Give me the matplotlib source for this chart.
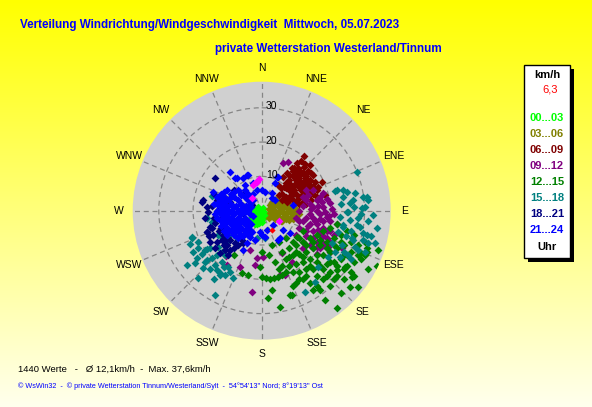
import numpy as np
import matplotlib.pyplot as plt
from matplotlib.patches import Rectangle

# wind rose points, one list per time slot: (east, north) component in km/h
# direction = angle from north (clockwise), speed = length
pts_00_03 = [(-2.5, -0.5), (-2.0, -1.0), (-1.5, -1.5), (-2.8, -1.5), (-3.2, -1.0), (-1.0, -0.8),
             (-0.5, -1.5), (-1.8, -2.2), (-2.5, -2.5), (-1.2, -2.8), (-0.6, -2.5), (0.2, -1.0),
             (-0.2, 0.3), (-1.0, 0.2), (-1.8, 0.5), (-2.6, 0.6), (-3.0, -2.2), (-2.2, -3.3),
             (-1.5, -3.8), (0.5, -2.0), (0.8, -0.5), (-0.8, -3.6), (-3.4, -0.2), (-2.0, -4.0),
             (0.0, -3.2), (1.2, -1.5), (-1.0, 1.0), (0.3, 0.8), (-1.5, -0.3), (-2.2, -1.8)]
pts_03_06 = [(2, 0.5), (3, 1), (4, 0), (5, -0.5), (6, 0.5), (7, 1), (8, 0), (9, -1), (10, -1.5),
             (3, -1.5), (4, -2.5), (5, -1.8), (6, -2.5), (7, -1.5), (8, -2.6), (9, -2.5), (6, 2),
             (7, 2.5), (5, 2.5), (4, 2), (8, 2), (9, 1.5), (10, 0.5), (2.5, -0.8), (3.5, 3),
             (6, -3), (7.5, -0.5), (5.5, 1.2), (4.5, -1), (8.5, -1.8), (3, 2.5), (2, -2),
             (11, -1), (4.5, 3.5), (6.5, 3.5), (3.5, 0.2), (5, 1), (6.5, -1), (7.5, 1.8),
             (8.5, 0.8), (9.5, 0), (4, -1.5), (5.5, -3), (7, -2.5), (3, 0), (2.5, 1.8), (10.5, -0.5)]
pts_06_09 = [(12.4, 15.9), (10.2, 13.8), (12.4, 12.8), (14.1, 13.3), (8.7, 12.4), (6.3, 9.9),
             (4.8, 7.5), (18.5, 4.6), (16.5, 7.0), (15.0, 10.4), (17.5, 8.5), (7, 8), (8, 9),
             (9, 10), (10, 11), (11, 10), (12, 11), (13, 10), (14, 9), (9, 7), (10, 8), (11, 7),
             (12, 8), (13, 7), (15, 7), (8, 6), (9, 5), (10, 5), (11, 4), (12, 5), (13, 4.5),
             (14, 5), (15, 5), (16, 4), (6, 5), (7, 4), (8, 3), (9, 3), (10, 2.5), (11, 2),
             (12, 2.5), (13, 2), (7, 6.5), (11, 12), (9.5, 12.5), (13.5, 11.5), (6, 3), (5, 4.5),
             (14.5, 3), (16, 6), (10, 9), (12, 6.5), (8, 10.5), (11.5, 14.5), (5.5, 6.5), (7.5, 11),
             (8.5, 7.5), (10.5, 9.5), (12.5, 9.5), (11.5, 8.5), (13.5, 8.5), (9.5, 6), (11.5, 6),
             (13.5, 6), (10.5, 3.5), (12.5, 3.5), (14, 7.5), (9, 11.5), (12.5, 13.5), (10.5, 12.5),
             (7.5, 7.5), (15.5, 8.5), (6.5, 7), (8.5, 4.5), (7.5, 2.5), (14.5, 11)]
pts_09_12 = [(7.7, 14.2), (6.2, 13.9), (17.9, 5.1), (19.9, 2.2), (19.0, -1.8), (-3.4, -11.5),
             (-10.2, -15.8), (-6.3, -16.3), (-1.5, -13.9), (-2.0, -15.8), (0.4, -13.4),
             (-2.9, -23.6), (5.3, -18.7), (6.8, -18.7), (8.7, -14.9), (5.8, -12.2), (-10.5, -13.1),
             (19.3, -10.5), (23.3, -11), (12, 4), (13, 3), (14, 2), (15, 1), (16, 3), (17, 4),
             (18, 1), (16, 0), (14, -1), (13, -2), (15, -2), (17, -1), (18, -3), (20, -3),
             (12, -3), (14, -4), (16, -4), (18, -5), (19, -6), (13, -6), (15, -6), (17, -7),
             (19, -8), (14, -8), (16, -9), (18, -10), (20, -9), (21, -7), (15, -11), (17, -11),
             (12, -9), (11, -5), (10, -2), (11, 0), (12, 1.5), (21, -1), (22, -4), (19, 3.5),
             (13, 6), (15, 6), (10, -7), (20, -12), (16, -12.5), (12, -11),
             (13.5, 4.5), (14.5, 0.5), (16.5, 1.5), (17.5, 2.5), (15.5, -3), (17, -2.5),
             (19.5, -1.5), (13.5, -4.5), (16.5, -5.5), (18, -7.5), (15, -8), (17.5, -9), (20, -6),
             (14, -10), (16, -10.5), (19, -11), (13, -7.5), (11, -3), (18.5, -0.5), (20.5, 0.5)]
pts_12_15 = [(33.5, -16.2), (30.7, -12), (28, -22.2), (25.7, -22.2), (21.9, -28.4), (18.4, -26),
             (15, -23.1), (8.3, -24.6), (5.3, -28), (3, -23.1), (1.9, -25.4), (8.7, -24.6),
             (-8, -12.9), (-5.8, -18.3), (-4.1, -18.7), (0, -12), (-0.5, -16.3),
             (0, -19.4), (1.2, -19.6), (2.4, -19.8), (3.6, -19.6), (4.7, -19.2), (5.8, -18.8),
             (3, -10), (5, -9), (7, -8), (10.2, -7.6), (12, -6), (6, -12), (8, -11), (10, -10),
             (12, -9), (14, -8), (16, -7), (18, -6), (20, -5), (22, -4), (7, -14), (9, -13),
             (11, -12.5), (13, -12), (15, -11), (17, -10), (19, -9), (21, -8), (23, -7), (25, -6),
             (27, -7), (6, -16), (8, -16), (10, -15.5), (12, -15), (14, -14), (16, -13), (18, -13),
             (20, -12), (22, -11), (24, -10), (26, -9), (28, -10), (30, -9), (9, -18), (11, -18),
             (13, -17), (15, -17), (17, -16), (19, -15.5), (21, -15), (23, -14), (25, -13),
             (27, -15), (29, -14), (12, -20), (14, -21), (16, -19), (18, -20), (20, -18),
             (22, -19), (24, -17), (26, -18), (20, -22), (23, -24), (17, -23), (10, -21), (4, -15),
             (2, -13), (31, -17), (27, -19), (30.6, -11), (34, -11.5), (29, -12.4), (26.2, -19.2),
             (21.9, -17.3), (24.3, -16.3),
             (9, -9), (11, -8), (13, -10), (15, -9), (17, -8.5), (19, -11), (21, -10), (23, -9),
             (8, -13.5), (10, -12), (12, -13.5), (14, -16), (16, -15), (18, -17), (20, -15),
             (22, -16), (24, -13), (26, -12), (28, -13), (11, -20), (13, -19), (19, -19),
             (21, -20), (25, -16), (24, -20), (7, -18), (5, -17), (9, -22), (16, -22), (30, -13)]
pts_15_18 = [(27.7, 11.4), (21.9, 6), (30.6, 4.1), (32.5, -1.3), (33, -9.5), (30.1, -12),
             (23.8, 4.1), (21.4, 5.7), (24.8, 5.5), (26.7, 3.1), (29.6, 4.1), (31.1, 3.1),
             (29.2, 0.7), (25.2, -0.3), (25.7, -2.7), (23.8, -4.2), (27.7, -4.2), (33.5, -5.1),
             (30.6, -7.1), (26.2, -8), (23.3, -10), (21.4, -12), (22.8, -13.4), (25.2, -12.9),
             (27.2, -10.5), (16.5, -16.3), (12.6, -23.6), (15.5, -20.7), (29.6, -8.5),
             (19.4, -13.4), (20.4, -9.5), (22.3, -6.1), (23.8, 6), (27.2, 5.1), (30.1, 1.2),
             (25.7, 2.2), (23.8, -4.7), (28.7, -4.7), (26.7, -8.5), (29.6, -6.6), (22.8, -1.7),
             (24.8, -0.3), (27, 1), (28, -2), (31, -3), (26, -6), (24.5, -7.5), (28, -11.5),
             (32, -7.5), (24, -12), (23, 2), (29, -1), (31, -9.5), (26, -14),
             (-20.4, -8), (-20.9, -9.8), (-18.5, -11), (-16, -11.2), (-19, -13.9), (-19.4, -15.3),
             (-16.5, -14.9), (-17, -16.8), (-14.6, -13.9), (-13.6, -15.8), (-13.1, -17.3),
             (-12.2, -18.7), (-10.7, -18.7), (-9.2, -17.8), (-8.3, -19.7), (-9.7, -16.3),
             (-13.6, -24.6), (-11.7, -14.9), (-10.7, -12.9), (-11.7, -12), (-12.7, -7.1),
             (-9.2, -7.1), (-7.3, -8), (-1.5, -8), (1, -8), (-21.9, -15.8), (-18.5, -19.7),
             (-16, -14.4), (-12.2, -18.2), (-14.6, 4.3), (-16, -2.2), (-14.6, -3.2),
             (-20.4, -7.6), (-18.5, -9), (-11.7, -7.6), (-9.7, -8.5), (-12.7, -10.5),
             (-16.5, -11.5), (-8.7, 4.6), (-15, -17), (-17.5, -12.5), (-13, -13), (-11, -16.5),
             (-15, -11), (-20, -12), (-14, -20)]
pts_18_21 = [(-17, 3.1), (-12.7, 0.2), (-16, -6.1), (-15.1, -4.7), (-13.6, -3.7), (-9.7, -0.8),
             (-8.7, -3.7), (-11.2, -7.1), (-9.2, -8.5), (-7.8, -9.5), (-5.8, -8.5), (-10.7, -11.5),
             (-12.2, -12.4), (-4.9, -6.6), (-6.3, -4.7), (-5.4, -0.8), (-2.9, 1.7), (-13.6, 9.4),
             (-4.9, 5.1), (-17.5, 2.6), (-15.6, -0.3), (-12.2, 1.7), (-9.2, 2.6), (-16, -6.3),
             (-14.1, -7.1), (-10.7, -8.5), (-9.2, -11.5), (-9.7, -12.9), (-5.4, -9.5),
             (-14, -2), (-12, -5), (-10, -6), (-13, -9), (-11, -10), (-8, -11), (-15, -9),
             (-16.5, -2), (-14.5, 1.5), (-11, 4), (-8, 6), (-14, 5),
             (-12.5, -6), (-14.5, -5), (-11.5, -8.5), (-13.5, -11), (-10, -10), (-7, -10),
             (-15.5, -7.5), (-16, 1), (-13, 3), (-12, -2)]
pts_21_24 = [(-10, 6), (-7, 6), (-5, 6), (-12, 5), (-9, 5), (-6, 5), (-4, 5), (-13, 4), (-11, 4),
             (-8, 4), (-5, 4), (-3, 4), (-12, 3), (-10, 3), (-7, 3), (-4, 3), (-2.5, 3), (-13, 2),
             (-11, 2), (-9, 2), (-6, 2), (-3.5, 2), (-12, 1), (-10, 1), (-8, 1), (-5, 1), (-3, 1),
             (-13, 0), (-11, 0), (-9, 0), (-7, 0), (-4, 0), (-12, -1), (-10, -1), (-8, -1),
             (-6, -1), (-3.5, -1), (-13, -2), (-11, -2), (-9, -2), (-7, -2), (-5, -2), (-12, -3),
             (-10, -3), (-8, -3), (-6, -3), (-4, -3), (-11, -4), (-9, -4), (-7, -4), (-5, -4),
             (-3, -4), (-10, -5), (-8, -5), (-6, -5), (-4, -5), (-11, -6), (-9, -6), (-7, -6),
             (-5, -6), (-3, -6), (-8, -7), (-6, -7), (-4, -7),
             (-11, 5.5), (-8, 5.5), (-6, 4.5), (-9.5, 3.5), (-12.5, 2.5), (-7.5, 1.5), (-4.5, 1.5),
             (-10.5, 0.5), (-6, 0.5), (-8.5, -0.5), (-12.5, -0.5), (-5, -0.5), (-10, -1.5),
             (-6.5, -2.5), (-11.5, -2.5), (-9, -3.5), (-5, -3.2), (-12, -4.5), (-7.5, -4.5),
             (-9.5, -5.5), (-6.5, -5.5), (-8, -6.5), (-10, -7), (-5.5, -7.5), (-7, -8), (-3.5, -7.8),
             (-13.5, -1), (-14, 2), (-2.5, -1.5), (-2.5, 5),
             (-9.2, 11.4), (-7.3, 9.4), (-3.9, 10.4), (-4.9, 7.5), (-2.4, 8), (0, 6), (-14.1, 5.5),
             (1, -7.6), (-0.5, -6.1), (1.5, -5.6), (4.8, 9.9), (3.9, 8), (2.9, 5.1), (9.2, 1.7),
             (3.9, 3.1), (3.4, -4.2), (-1.5, 6), (8.3, -6.6), (4.8, -8.5), (0, -7.1), (-5.4, -11.5),
             (-4.4, -9.5), (-2, -8.5), (-2.9, -6.1), (4.4, 9.9), (1, 5.5), (2.9, 3.6), (5.3, -8),
             (6.3, -5.6), (-5.4, 9.4), (-4.4, 10.4), (-7.8, 9.4)]
pts_magenta = [(-1.5, 8.5), (-2.4, 7.5), (-0.8, 9.2), (-2.9, 3.6), (5.0, -3.0), (-2.0, 8.0)]
pts_current = [(3.1, -5.5)]

slot_labels = ['00...03', '03...06', '06...09', '09...12', '12...15', '15...18', '18...21', '21...24']
slot_colors = ['#00ff00', '#808000', '#800000', '#800080', '#008000', '#008080', '#000080', '#0000ff']
slot_points = [pts_00_03, pts_03_06, pts_06_09, pts_09_12, pts_12_15, pts_15_18, pts_18_21, pts_21_24]

dir_names = ['N', 'NNE', 'NE', 'ENE', 'E', 'ESE', 'SE', 'SSE',
             'S', 'SSW', 'SW', 'WSW', 'W', 'WNW', 'NW', 'NNW']
ring_values = [10, 20, 30]
r_max = 37.6
current_speed = '6,3'

W, H = 592, 407
fig = plt.figure(figsize=(W / 100, H / 100), dpi=100)

# yellow to pale background
bg = fig.add_axes([0, 0, 1, 1], zorder=-10)
grad = np.linspace(0, 0.93, 256)
img = np.ones((256, 1, 3))
img[:, 0, 2] = grad
bg.imshow(img, aspect='auto', extent=[0, 1, 0, 1])
bg.axis('off')


def px(x, y):
    return x / W, 1 - y / H


# polar area: centre (261.7, 210.7) px, radius 129 px
cx, cy, rad = 261.7, 210.7, 129
ax = fig.add_axes([(cx - rad) / W, (H - cy - rad) / H, 2 * rad / W, 2 * rad / H], projection='polar')
ax.set_theta_zero_location('N')
ax.set_theta_direction(-1)
ax.set_facecolor('#d0d0d0')
ax.set_ylim(0, r_max)
ax.set_xticks(np.deg2rad(np.arange(0, 360, 22.5)))
ax.set_xticklabels([])
ax.set_yticks(ring_values)
ax.set_yticklabels([])
ax.grid(True, color='#858585', linestyle=(0, (4, 3)), linewidth=0.9)
ax.spines['polar'].set_visible(False)


def to_polar(pts):
    a = np.array(pts, dtype=float)
    return np.arctan2(a[:, 0], a[:, 1]), np.hypot(a[:, 0], a[:, 1])


for pts, col in zip(slot_points, slot_colors):
    th, r = to_polar(pts)
    ax.scatter(th, r, marker='D', s=16, color=col, linewidths=0, zorder=3)
th, r = to_polar(pts_magenta)
ax.scatter(th, r, marker='D', s=16, color='#ff00ff', linewidths=0, zorder=4)
th, r = to_polar(pts_current)
ax.scatter(th, r, marker='D', s=10, color='#ff0000', linewidths=0, zorder=5)

# ring labels just right of the north spoke
for v in ring_values:
    ax.annotate(str(v), (0, v), xytext=(3, 1), textcoords='offset points',
                ha='left', va='center', fontsize=7.5, family='Liberation Sans', zorder=6)

# compass labels
r_lab = r_max * 143 / 129
for i, name in enumerate(dir_names):
    ax.text(np.deg2rad(i * 22.5), r_lab, name, ha='center', va='center',
            fontsize=7.5, family='Liberation Sans', clip_on=False)

# titles
fig.text(*px(20, 25), 'Verteilung Windrichtung/Windgeschwindigkeit  Mittwoch, 05.07.2023',
         color='#0000ff', fontsize=8.4, fontweight='bold', family='Liberation Sans',
         ha='left', va='center')
fig.text(*px(215, 49), 'private Wetterstation Westerland/Tinnum',
         color='#0000ff', fontsize=8.4, fontweight='bold', family='Liberation Sans',
         ha='left', va='center')

# footer
fig.text(*px(18, 369), '1440 Werte   -   Ø 12,1km/h  -  Max. 37,6km/h',
         color='black', fontsize=6.8, family='Liberation Sans', ha='left', va='center')
fig.text(*px(18, 386), "© WsWin32  -  © private Wetterstation Tinnum/Westerland/Sylt  -  "
         "54°54'13'' Nord; 8°19'13'' Ost",
         color='#0000ff', fontsize=5.25, family='Liberation Sans', ha='left', va='center')

# legend box with shadow
bx0, by0, bx1, by1 = 524, 65, 570, 258
fig.add_artist(Rectangle(px(bx0 + 4, by1 + 4), (bx1 - bx0) / W, (by1 - by0) / H,
                         transform=fig.transFigure, facecolor='black', edgecolor='none', zorder=1))
fig.add_artist(Rectangle(px(bx0, by1), (bx1 - bx0) / W, (by1 - by0) / H,
                         transform=fig.transFigure, facecolor='white', edgecolor='black',
                         linewidth=1, zorder=2))
lx = 547
fig.text(*px(lx, 75), 'km/h', fontsize=8, fontweight='bold', family='Liberation Sans',
         ha='center', va='center', zorder=3)
fig.text(*px(550, 90), current_speed, fontsize=8, color='#ff0000', family='Liberation Sans',
         ha='center', va='center', zorder=3)
for k, (lab, col) in enumerate(zip(slot_labels, slot_colors)):
    fig.text(*px(lx, 118 + 16 * k), lab, fontsize=8, fontweight='bold', color=col,
             family='Liberation Sans', ha='center', va='center', zorder=3)
fig.text(*px(lx, 247), 'Uhr', fontsize=8, fontweight='bold', family='Liberation Sans',
         ha='center', va='center', zorder=3)

fig.savefig('out.png', dpi=100)
